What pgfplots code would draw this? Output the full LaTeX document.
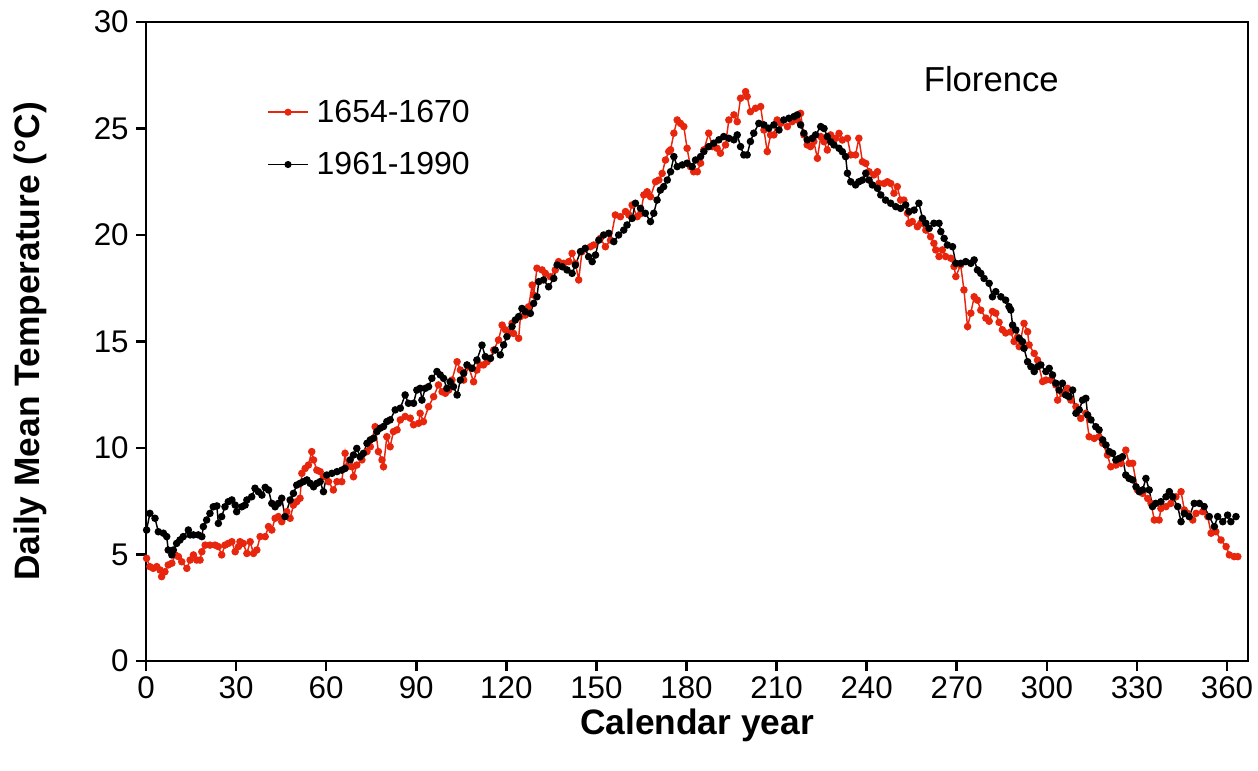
\documentclass[border=0pt]{standalone}
\usepackage{pgfplots}
\pgfplotsset{compat=1.18}
\usepackage{fontspec}
\setmainfont{Liberation Sans}
\definecolor{myred}{RGB}{232,38,14}

\begin{document}
\begin{tikzpicture}
\begin{axis}[
  scale only axis,
  width=826.5pt, height=479.25pt,
  xmin=0, xmax=367, ymin=0, ymax=30,
  xtick={0,30,...,360}, ytick={0,5,...,30},
  axis line style={line width=1.9pt},
  tick style={line width=1.9pt, black},
  major tick length=7.5pt,
  tick align=outside,
  xtick pos=bottom, ytick pos=left,
  /pgf/number format/assume math mode=true,
  ticklabel style={font=\fontsize{23.5}{27}\selectfont},
  xticklabel style={yshift=-1pt},
  yticklabel style={xshift=-2pt},
  every axis x label/.style={at={(axis description cs:0.5,0)}, anchor=center, yshift=-48.5pt},
  every axis y label/.style={at={(axis description cs:-0.105,0.5)}, anchor=center, rotate=90},
  xlabel={\fontsize{26.5}{30}\selectfont\bfseries Calendar year},
  ylabel={\fontsize{26.5}{30}\selectfont\bfseries Daily Mean Temperature (°C)},
  legend style={draw=none, fill=none, at={(axis cs:39,26.6)}, anchor=north west,
    font=\fontsize{24}{28}\selectfont, row sep=17pt, legend cell align=left,
    /tikz/every odd column/.append style={column sep=4pt}},
  legend image code/.code={
    \draw[#1] (0cm,0cm) -- (1.05cm,0cm);
    \fill[#1] (0.525cm,0cm) circle (2.1pt);
  },
]
\addplot[color=myred, line width=1.1pt, mark=*, mark size=2.25pt, mark options={fill=myred, draw=myred}] coordinates {
(0.2,4.82)(1.3,4.43)(2.4,4.35)(3.6,4.43)(4.7,4.27)(5.2,3.96)(6.3,4.19)(7.4,4.51)(8.6,4.59)(9.7,4.98)
(10.8,4.90)(11.9,4.66)(13.6,4.35)(14.7,4.74)(15.8,4.98)(16.9,4.74)(18.0,4.74)(18.6,5.13)(19.7,5.44)(21.3,5.44)
(23.0,5.44)(24.1,5.37)(25.2,4.98)(26.3,5.44)(27.4,5.52)(28.6,5.60)(29.7,5.13)(30.8,5.37)(31.3,5.60)(32.4,5.52)
(33.6,5.05)(34.7,5.60)(35.8,5.05)(36.9,5.21)(38.0,5.84)(39.7,5.84)(40.8,6.31)(41.9,6.15)(43.0,6.70)(44.1,6.78)
(45.2,6.54)(46.9,7.01)(48.0,6.70)(49.1,7.32)(50.2,7.48)(51.3,7.64)(51.9,8.81)(53.0,9.04)(54.1,9.20)(55.2,9.83)
(55.8,9.44)(56.9,8.96)(58.0,8.89)(59.1,8.65)(60.8,8.42)(62.4,8.03)(63.6,8.42)(65.2,8.42)(66.3,9.75)(66.9,9.12)
(68.6,9.12)(69.1,8.65)(70.2,9.20)(71.9,9.44)(73.6,9.83)(74.7,10.06)(76.3,11.00)(77.4,9.83)(78.6,9.44)(79.1,9.12)
(80.2,10.53)(81.3,10.06)(82.4,10.77)(83.6,10.85)(84.7,11.32)(86.3,11.48)(88.0,11.40)(89.1,11.09)(90.8,11.16)(91.3,11.63)
(92.4,11.24)(94.1,11.94)(95.8,12.41)(97.4,12.96)(98.6,12.64)(99.7,12.57)(100.8,12.72)(101.9,13.19)(103.6,14.05)(104.7,13.66)
(105.8,13.19)(107.4,13.82)(109.1,13.11)(110.2,13.66)(111.3,13.90)(112.4,13.90)(113.6,14.05)(114.7,14.21)(115.8,14.60)(117.4,15.07)
(118.6,15.77)(119.7,15.55)(120.8,15.38)(121.9,15.85)(122.4,15.38)(124.1,15.15)(124.7,16.17)(126.3,16.24)(127.4,16.63)(128.6,17.65)
(129.1,17.18)(130.2,18.44)(131.9,18.36)(133.0,18.20)(134.7,18.04)(136.3,18.36)(137.4,18.75)(139.1,18.67)(140.8,18.75)(141.9,19.14)
(143.0,18.67)(144.1,17.89)(145.2,19.22)(146.3,19.37)(148.0,19.45)(149.1,19.53)(151.3,19.84)(153.0,19.45)(154.7,19.76)(156.3,20.94)
(158.0,20.86)(159.7,21.10)(160.8,20.94)(161.9,21.41)(163.6,20.86)(164.7,21.00)(165.8,21.88)(166.9,22.03)(168.0,21.80)(169.7,22.50)
(170.8,22.58)(171.9,22.89)(173.0,23.52)(174.1,23.92)(174.7,24.00)(175.8,24.78)(176.9,25.40)(178.0,25.24)(179.1,25.09)(180.2,24.07)
(181.3,23.21)(182.4,22.97)(183.6,22.97)(184.7,23.37)(185.8,24.00)(187.4,24.78)(188.6,24.15)(190.2,24.07)(191.3,23.84)(193.0,24.23)
(194.1,25.40)(195.8,25.64)(196.9,25.32)(198.0,26.42)(199.7,26.73)(200.2,26.50)(201.3,25.79)(203.0,25.95)(204.7,26.03)(205.8,24.93)
(206.9,23.92)(208.0,24.70)(209.1,24.70)(210.2,25.40)(211.3,25.24)(213.6,25.09)(215.2,25.32)(216.9,25.40)(218.0,25.71)(219.1,24.70)
(220.2,24.23)(221.3,24.15)(222.4,24.39)(223.6,23.60)(224.7,24.62)(225.8,24.38)(226.9,23.99)(228.0,24.70)(229.7,24.54)(230.8,24.77)
(231.9,24.46)(233.6,24.54)(234.7,23.76)(236.3,23.76)(237.4,24.54)(238.6,23.44)(239.7,23.36)(240.8,22.97)(242.4,22.82)(243.6,22.97)
(244.1,22.42)(245.8,22.42)(246.9,22.50)(248.0,22.42)(249.1,21.96)(250.2,22.27)(251.3,21.64)(252.4,21.64)(253.6,21.02)(254.1,20.55)
(255.2,20.63)(256.9,20.39)(258.0,20.55)(259.7,20.23)(261.3,19.92)(262.4,19.61)(263.0,19.30)(264.1,18.99)(265.2,19.30)(266.3,18.99)
(268.0,18.91)(269.1,18.52)(269.7,18.05)(271.3,18.60)(272.4,17.42)(273.6,15.70)(274.7,16.33)(275.8,17.10)(276.9,16.94)(278.0,16.47)
(279.7,16.10)(280.8,15.95)(281.9,16.41)(283.0,16.33)(284.1,15.90)(285.2,15.55)(286.3,15.40)(288.0,15.45)(289.1,15.00)(290.2,15.20)
(290.8,14.76)(292.4,15.85)(293.6,15.46)(294.1,14.84)(295.8,14.44)(296.9,14.13)(298.6,13.12)(299.7,13.19)(301.3,13.19)(303.0,12.96)
(303.6,12.25)(305.2,12.57)(306.9,12.80)(308.0,12.25)(309.7,11.94)(311.3,11.39)(313.0,11.63)(314.1,10.53)(315.8,10.45)(317.4,10.53)
(318.6,10.22)(320.2,9.67)(321.3,9.12)(323.0,9.20)(324.7,9.28)(326.3,9.90)(327.4,9.28)(328.6,9.28)(330.2,8.03)(331.9,7.87)
(333.6,7.63)(334.7,7.40)(335.8,6.62)(337.4,6.62)(338.0,7.16)(339.7,7.25)(341.3,7.40)(343.0,7.71)(344.7,7.95)(345.8,7.09)
(346.9,6.93)(348.6,6.62)(349.7,6.93)(351.9,7.01)(353.6,6.78)(354.7,6.00)(356.3,6.07)(358.0,5.68)(359.7,5.37)(360.8,4.98)
(362.4,4.90)(363.6,4.90)
};
\addlegendentry{1654-1670}
\addplot[color=black, line width=1.1pt, mark=*, mark size=2.25pt, mark options={fill=black, draw=black}] coordinates {
(0.2,6.15)(1.3,6.93)(3.0,6.70)(4.1,6.07)(5.8,6.00)(6.9,5.84)(7.4,5.21)(8.6,4.98)(9.1,5.21)(10.2,5.52)
(11.3,5.68)(12.4,5.84)(14.1,6.15)(14.7,5.92)(15.8,5.92)(17.4,5.92)(18.6,5.84)(19.1,6.31)(20.2,6.62)(21.3,6.93)
(22.4,7.24)(23.6,7.28)(24.1,6.46)(25.2,6.78)(26.3,7.24)(27.4,7.48)(28.6,7.56)(29.7,7.32)(30.2,7.01)(31.9,7.24)
(33.0,7.32)(33.6,7.56)(35.2,7.71)(36.3,8.11)(37.4,7.95)(38.6,7.79)(39.7,8.15)(40.8,8.03)(41.9,7.40)(43.0,7.24)
(44.1,7.40)(45.2,7.64)(46.3,6.78)(48.0,7.56)(49.1,7.87)(50.2,8.26)(51.3,8.34)(52.4,8.42)(53.6,8.50)(54.7,8.34)
(55.8,8.18)(56.9,8.34)(58.0,8.42)(59.1,7.95)(60.2,8.73)(61.9,8.81)(63.6,8.89)(65.2,8.96)(66.3,9.04)(68.0,9.44)
(69.1,9.67)(70.2,9.98)(71.3,9.59)(72.4,9.75)(73.6,10.22)(74.7,10.38)(75.8,10.46)(76.9,10.77)(78.0,10.93)(79.1,11.01)
(80.2,11.24)(81.3,11.32)(83.0,11.79)(84.7,11.87)(86.3,12.49)(87.4,12.10)(89.1,12.10)(90.2,12.72)(91.3,12.80)(91.9,12.25)
(93.0,12.80)(94.1,12.88)(95.2,13.27)(96.9,13.59)(98.0,13.43)(99.1,13.27)(100.2,12.80)(101.3,13.11)(102.4,12.88)(103.6,12.49)
(104.7,13.19)(105.8,13.51)(106.9,13.90)(108.6,13.74)(110.2,14.13)(111.9,14.83)(113.0,14.29)(114.7,14.21)(116.3,14.60)(118.0,14.37)
(119.1,14.84)(120.2,15.23)(121.9,15.70)(123.0,16.01)(124.1,16.17)(125.2,16.55)(126.3,16.40)(128.0,16.32)(129.1,16.79)(130.2,17.10)
(130.8,17.81)(132.4,17.89)(134.1,17.57)(135.8,17.96)(136.9,18.59)(138.6,18.51)(140.2,18.36)(141.9,18.20)(143.0,18.59)(144.7,19.22)
(146.3,19.37)(147.4,18.98)(148.6,18.75)(149.7,19.06)(150.8,19.76)(152.4,20.00)(154.1,20.08)(155.8,19.69)(157.4,20.00)(159.1,20.23)
(160.2,20.47)(161.9,20.78)(163.0,21.49)(164.7,21.25)(166.3,21.02)(168.0,20.63)(169.1,21.02)(170.2,21.64)(171.3,22.11)(172.4,22.27)
(173.6,22.58)(174.7,22.97)(175.8,23.68)(176.9,23.21)(178.6,23.29)(180.2,23.37)(181.9,23.21)(183.0,23.52)(184.7,23.68)(185.8,23.92)
(187.4,24.15)(189.1,24.31)(190.8,24.47)(192.4,24.62)(194.1,24.54)(195.8,24.47)(196.9,24.70)(198.0,24.15)(199.1,23.76)(200.2,23.76)
(201.3,24.39)(202.4,24.78)(204.1,25.24)(205.8,25.17)(207.4,25.01)(209.1,25.17)(210.8,24.93)(212.4,25.40)(214.1,25.48)(215.8,25.56)
(216.9,25.64)(218.0,25.17)(219.1,24.78)(220.2,24.47)(221.9,24.54)(223.0,24.70)(224.7,25.09)(225.8,25.00)(226.9,24.62)(228.0,24.38)
(229.1,24.23)(230.8,24.07)(231.9,23.91)(233.0,23.68)(233.6,22.90)(234.7,22.50)(236.3,22.35)(237.4,22.50)(238.6,22.58)(239.7,22.90)
(240.8,22.58)(241.9,22.35)(243.6,22.19)(244.7,21.88)(246.3,21.64)(248.0,21.49)(249.7,21.33)(251.3,21.25)(253.0,21.41)(254.1,21.10)
(255.8,21.17)(257.4,21.49)(258.6,20.78)(259.7,20.55)(260.8,20.31)(262.4,20.55)(264.1,20.55)(264.7,20.16)(265.8,19.84)(266.9,19.53)
(268.6,19.45)(269.7,18.67)(271.3,18.67)(273.0,18.75)(274.7,18.67)(275.8,18.83)(276.9,18.36)(278.0,18.20)(279.1,17.96)(280.8,17.73)
(281.9,17.10)(283.0,17.34)(284.7,17.10)(286.3,16.94)(287.4,16.64)(288.0,16.48)(288.6,15.77)(289.7,15.54)(290.8,15.15)(291.9,14.99)
(292.4,14.68)(293.6,14.05)(294.7,13.82)(295.8,13.59)(296.9,13.82)(298.0,13.90)(299.7,13.59)(300.8,13.74)(301.9,13.43)(303.0,13.04)
(304.1,12.72)(305.2,13.04)(306.3,12.49)(307.4,12.41)(308.6,12.72)(309.7,11.63)(310.8,11.79)(311.9,12.25)(313.0,12.33)(313.6,11.55)
(314.7,11.32)(316.3,11.00)(317.4,10.85)(318.6,10.38)(319.7,10.14)(320.8,9.83)(321.9,9.75)(323.0,9.44)(324.1,9.51)(325.2,9.59)
(326.3,8.73)(327.4,8.57)(328.6,8.50)(329.7,8.18)(330.8,7.95)(331.9,8.03)(333.0,8.57)(334.1,8.03)(335.2,7.25)(336.3,7.40)
(338.0,7.48)(339.7,7.71)(340.8,7.95)(341.9,7.71)(343.6,7.25)(344.7,6.54)(345.8,6.93)(347.4,6.78)(349.1,7.40)(350.8,7.40)
(352.4,7.25)(354.1,6.78)(355.8,6.31)(356.9,6.78)(358.6,6.54)(360.2,6.85)(361.3,6.54)(363.0,6.78)
};
\addlegendentry{1961-1990}
\node[font=\fontsize{26}{30}\selectfont] at (axis cs:281.5,27.3) {Florence};
\end{axis}
\path ([xshift=-109.5pt,yshift=-82.5pt]current axis.south west) rectangle ([xshift=7.5pt,yshift=16.5pt]current axis.north east);
\end{tikzpicture}
\end{document}
